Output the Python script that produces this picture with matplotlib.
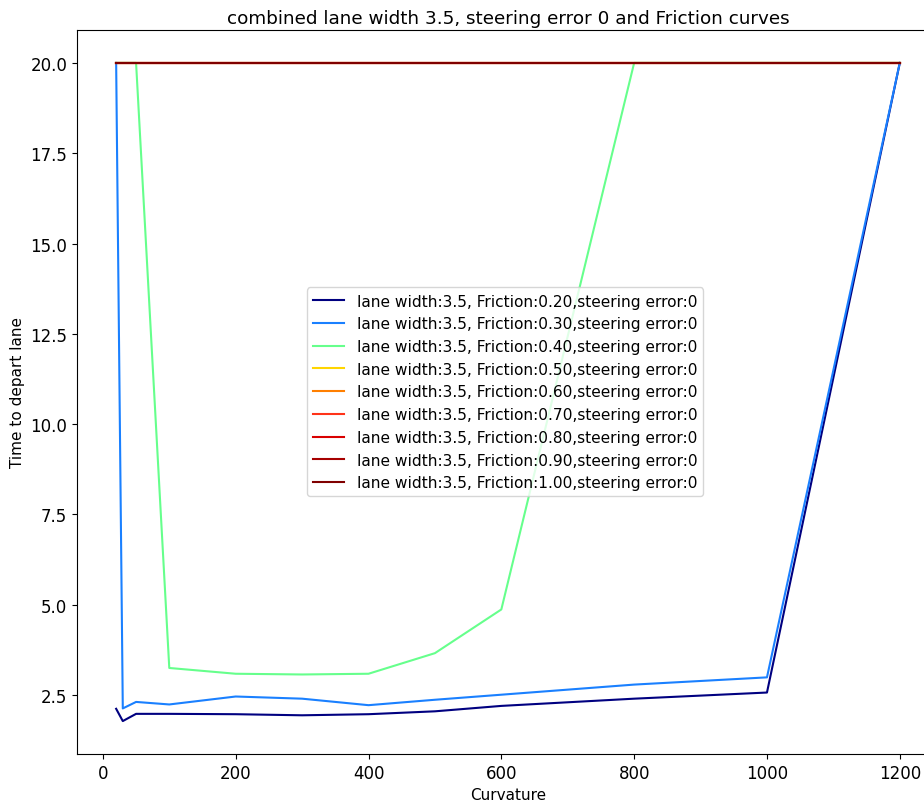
import numpy as np
import matplotlib
matplotlib.use("Agg")
import matplotlib.pyplot as plt

# curvature values for each friction curve
x_02 = [20, 30, 50, 100, 200, 300, 400, 500, 600, 800, 1000, 1200]
y_02 = [2.12, 1.78, 1.98, 1.98, 1.97, 1.94, 1.97, 2.05, 2.2, 2.4, 2.57, 20]

x_03 = [20, 30, 50, 100, 200, 300, 400, 500, 600, 800, 1000, 1200]
y_03 = [20, 2.13, 2.31, 2.24, 2.46, 2.40, 2.22, 2.37, 2.51, 2.79, 2.99, 20]

x_04 = [20, 50, 100, 200, 300, 400, 500, 600, 800, 1000, 1200]
y_04 = [20, 20, 3.25, 3.09, 3.07, 3.09, 3.66, 4.87, 20, 20, 20]

x_flat = [20, 30, 50, 100, 200, 300, 400, 500, 600, 800, 1000, 1200]
y_flat = [20] * len(x_flat)

frictions = [0.2, 0.3, 0.4, 0.5, 0.6, 0.7, 0.8, 0.9, 1.0]
colors = ['#000080', '#1a80ff', '#66ff8c', '#ffd500', '#ff7f00',
          '#ff3319', '#d90000', '#a60000', '#800000']

curves = [(x_02, y_02), (x_03, y_03), (x_04, y_04)] + [(x_flat, y_flat)] * 6

plt.rcParams['font.size'] = 12

fig = plt.figure(figsize=(9.24, 8.03), dpi=100)
ax = fig.add_axes([0.0833, 0.0598, 0.9329, 0.9016])

for (xs, ys), f, c in zip(curves, frictions, colors):
    ax.plot(xs, ys, color=c,
            label='lane width:3.5, Friction:%.2f,steering error:0' % f)

ax.set_title('combined lane width 3.5, steering error 0 and Friction curves',
             fontsize=13.2, pad=5)
ax.set_xlabel('Curvature', fontsize=11)
ax.set_ylabel('Time to depart lane', fontsize=11)
ax.legend(loc='center', bbox_to_anchor=(0.497, 0.5), fontsize=11.1)

fig.savefig('out.png', dpi=100)
